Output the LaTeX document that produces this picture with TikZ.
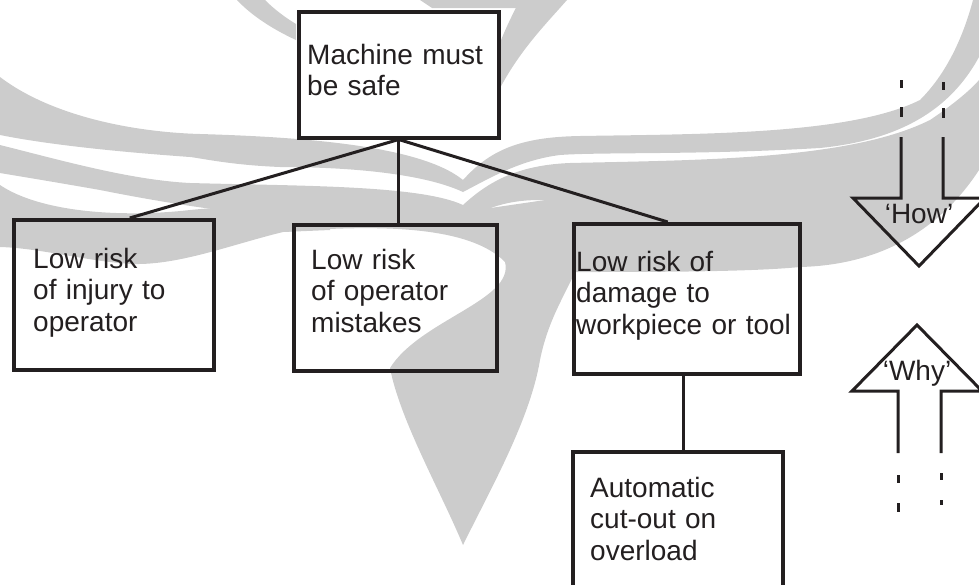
\documentclass[tikz,border=0pt]{standalone}
\usepackage{fontspec}
\setmainfont{Liberation Sans}
\usetikzlibrary{calc}
\definecolor{ink}{RGB}{35,31,32}
\definecolor{wm}{RGB}{204,204,204}
\begin{document}
\begin{tikzpicture}[x=1pt,y=-1pt,
  box/.style={draw=ink, line width=3.5pt, rectangle, inner sep=0pt, anchor=north west},
  lbl/.style={anchor=base west, align=left, text width=240pt, inner sep=0pt, text=ink,
    font=\fontsize{28}{31.5}\selectfont},
  qlbl/.style={anchor=base, inner sep=0pt, text=ink, font=\fontsize{28}{31.5}\selectfont},
  link/.style={draw=ink, line width=3pt},
  arrowline/.style={draw=ink, line width=3pt, line join=miter},
  dashseg/.style={draw=ink, line width=3pt},
  wmark/.style={fill=wm, draw=none}]
\useasboundingbox (0,0) rectangle (979,584);
\clip (0,0) rectangle (979,584);
% watermark: central body
\path[wmark] (283,232) .. controls (380,224) and (470,226) .. (505,262)
  .. controls (515,300) and (420,320) .. (390,368)
  .. controls (400,420) and (440,490) .. (463,545)
  .. controls (490,490) and (530,420) .. (540,360)
  .. controls (548,320) and (565,295) .. (575,272)
  .. controls (650,272) and (750,272) .. (800,267)
  -- (800,225) -- (600,192) -- (463,212) -- (300,200) -- cycle;
% left bands
\path[wmark] (0,77) .. controls (50,115) and (130,132) .. (200,134)
  .. controls (300,137) and (420,145) .. (463,180) -- (463,192)
  .. controls (420,172) and (340,167) .. (280,167)
  .. controls (230,165) and (200,158) .. (190,157)
  .. controls (120,152) and (50,145) .. (0,135) -- cycle;
\path[wmark] (0,145) .. controls (60,160) and (130,180) .. (190,183)
  .. controls (300,186) and (420,185) .. (463,205) -- (463,226)
  .. controls (420,222) and (330,215) .. (280,215)
  .. controls (230,214) and (150,200) .. (100,190)
  .. controls (60,183) and (30,178) .. (0,173) -- cycle;
\path[wmark] (0,185) .. controls (40,212) and (120,218) .. (190,210)
  .. controls (240,205) and (300,205) .. (330,210) -- (330,230) -- (283,232)
  .. controls (230,245) and (180,265) .. (133,264)
  .. controls (90,262) and (40,248) .. (0,247) -- cycle;
% right bands
\path[wmark] (463,180) .. controls (490,150) and (520,137) .. (580,136)
  .. controls (700,134) and (850,135) .. (920,100)
  .. controls (950,70) and (965,30) .. (973,0) -- (979,0) -- (979,57)
  .. controls (950,110) and (900,140) .. (820,148)
  .. controls (700,155) and (600,152) .. (560,155)
  .. controls (520,160) and (490,178) .. (463,192) -- cycle;
\path[wmark] (463,205) .. controls (490,180) and (520,165) .. (570,163)
  .. controls (700,160) and (850,160) .. (930,120)
  .. controls (960,100) and (975,85) .. (979,80) -- (979,170)
  .. controls (940,230) and (880,265) .. (800,267)
  .. controls (700,265) and (600,200) .. (540,200)
  .. controls (500,200) and (480,212) .. (463,222) -- cycle;
% top horns
\path[wmark] (237,0) -- (265,0) .. controls (275,10) and (286,18) .. (296,24)
  -- (296,40) .. controls (270,28) and (250,14) .. (237,0) -- cycle;
\path[wmark] (520,0) -- (567,0) .. controls (545,25) and (520,50) .. (499,90)
  -- (499,45) .. controls (505,30) and (512,15) .. (520,0) -- cycle;
\path[wmark] (420,0) -- (553,0) -- (540,8) -- (432,8) -- cycle;
% boxes
\node[box, minimum width=200pt, minimum height=126pt] (top) at (297,10) {};
\node[box, minimum width=200pt, minimum height=150pt] (b1) at (12,218) {};
\node[box, minimum width=203pt, minimum height=146pt] (b2) at (292,223) {};
\node[box, minimum width=226pt, minimum height=150pt] (b3) at (572,222) {};
\node[box, minimum width=210pt, minimum height=170pt] (b4) at (571,450) {};
% texts
\node[lbl] (tt) at (307,64) {Machine must\\be safe};
\node[lbl] (t1) at (33,268) {Low risk\\of injury to\\operator};
\node[lbl] (t2) at (311,269) {Low risk\\of operator\\mistakes};
\node[lbl] (t3) at (576,271) {Low risk of\\damage to\\workpiece or tool};
\node[lbl] (t4) at (590,497) {Automatic\\cut-out on\\overload};
% connectors
\draw[link] (top.south) -- ([xshift=16pt]b1.north);
\draw[link] (top.south) -- (top.south |- b2.north);
\draw[link] (top.south) -- ([xshift=-19pt]b3.north);
\draw[link] ([xshift=-3pt]b3.south) -- ([xshift=-3pt]b3.south |- b4.north);
% How arrow
\draw[arrowline] (901,137) -- (901,198) -- (853,198) -- (919,266) -- (985,198) -- (943,198) -- (943,137);
\draw[dashseg] (901,80) -- (901,88);
\draw[dashseg] (901,107) -- (901,117);
\draw[dashseg] (943,82) -- (943,90);
\draw[dashseg] (943,108) -- (943,118);
\node[qlbl] (how) at (919,223) {‘How’};
% Why arrow
\draw[arrowline] (898,453) -- (898,391) -- (852,391) -- (917,325) -- (982,391) -- (941,391) -- (941,453);
\draw[dashseg] (898,475) -- (898,483);
\draw[dashseg] (898,503) -- (898,512);
\draw[dashseg] (941,473) -- (941,480);
\draw[dashseg] (941,500) -- (941,505);
\node[qlbl] (why) at (917,380) {‘Why’};
\end{tikzpicture}
\end{document}
